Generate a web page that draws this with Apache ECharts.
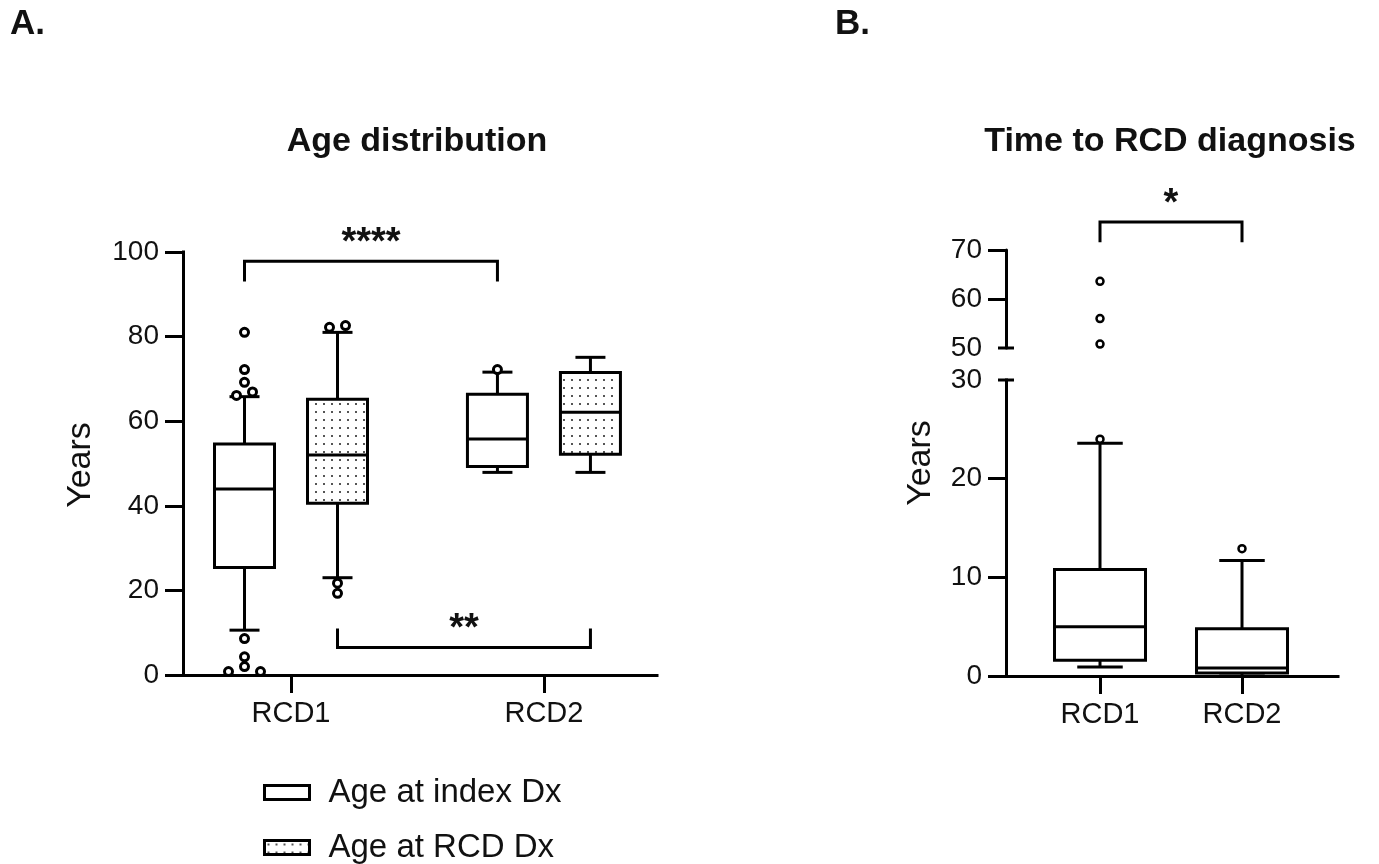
<!DOCTYPE html>
<html>
<head>
<meta charset="utf-8">
<title>Age distribution / Time to RCD diagnosis</title>
<script src="https://cdn.jsdelivr.net/npm/echarts@6/dist/echarts.min.js"></script>
<style>
  html, body { margin: 0; padding: 0; background: #fff; }
  #chart { width: 1379px; height: 864px; }
</style>
</head>
<body>
<div id="chart"></div>
<script>
const categories = ['RCD1', 'RCD2'];
const groupNames = ['Age at index Dx', 'Age at RCD Dx'];

// box stats per category: [lower whisker, Q1, median, Q3, upper whisker]
const ageIndexBoxes = [
  [10.6, 25.4, 44.0, 54.6, 65.8],
  [47.9, 49.3, 55.8, 66.4, 71.6]
];
const ageRcdBoxes = [
  [23.0, 40.6, 52.0, 65.2, 81.0],
  [47.9, 52.2, 62.1, 71.5, 75.1]
];
const ageIndexOutliers = [
  [81.0, 72.2, 69.2, 66.1, 66.9, 8.6, 4.3, 0.8, 2.0, 0.8],
  [72.2]
];
const ageRcdOutliers = [
  [82.2, 82.6, 21.7, 19.3],
  []
];

const timeBoxes = [
  [0.9, 1.6, 5.0, 10.8, 23.6],
  [0.0, 0.3, 0.8, 4.8, 11.7]
];
const timeOutliers = [
  [24.0, 50.8, 56.0, 63.6],
  [12.9]
];

const ageTicks = [0, 20, 40, 60, 80, 100];
const timeTicksLow = [0, 10, 20, 30];
const timeTicksHigh = [50, 60, 70];

// significance brackets: [from category, to category, group, bar level, leg end]
const ageBrackets = [
  [0, 1, 0, 97.8, 93.0],
  [0, 1, 1, 6.5, 11.0]
];
const ageBracketLabels = ['****', '**'];
const timeBrackets = [[0, 1, 0, 75.7, 71.6]];
const timeBracketLabels = ['*'];

const FONT = '"Liberation Sans", Arial, sans-serif';
const INK = '#111';

function dotPattern() {
  const c = document.createElement('canvas');
  c.width = 8;
  c.height = 8;
  const ctx = c.getContext('2d');
  ctx.fillStyle = '#555';
  ctx.fillRect(3, 3, 2, 2);
  return c;
}
const dots = { image: dotPattern(), repeat: 'repeat' };

// spread overlapping outliers sideways, like prism does
function dodge(ys, gap, step) {
  const clusters = [];
  ys.forEach((y, i) => {
    const hit = clusters.find(cl => cl.some(j => Math.abs(ys[j] - y) < gap));
    if (hit) hit.push(i); else clusters.push([i]);
  });
  const dx = ys.map(() => 0);
  clusters.forEach(cl => cl.forEach((j, k) => { dx[j] = (k - (cl.length - 1) / 2) * step; }));
  return dx;
}

function outlierShapes(api, cat, cx, values, range, r, lw) {
  const vals = values.filter(v => v >= range[0] && v <= range[1]);
  const ys = vals.map(v => api.coord([cat, v])[1]);
  const dx = dodge(ys, 8, 16);
  return ys.map((y, i) => ({
    type: 'circle',
    shape: { cx: cx + dx[i], cy: y, r: r },
    style: { fill: '#fff', stroke: '#000', lineWidth: lw },
    z2: 5
  }));
}

function boxRenderer(cfg) {
  return function (params, api) {
    const cat = api.value(0);
    const st = [1, 2, 3, 4, 5].map(k => api.value(k));
    const cx = api.coord([cat, 0])[0] + cfg.offset;
    const y = st.map(v => api.coord([cat, v])[1]);
    const hw = cfg.boxW / 2;
    const cw = cfg.boxW / 4;
    const ln = { stroke: '#000', lineWidth: 3, fill: null };
    const children = [
      { type: 'line', shape: { x1: cx, y1: y[1], x2: cx, y2: y[0] }, style: ln },
      { type: 'line', shape: { x1: cx - cw, y1: y[0], x2: cx + cw, y2: y[0] }, style: ln },
      { type: 'line', shape: { x1: cx, y1: y[3], x2: cx, y2: y[4] }, style: ln },
      { type: 'line', shape: { x1: cx - cw, y1: y[4], x2: cx + cw, y2: y[4] }, style: ln },
      { type: 'rect', shape: { x: cx - hw, y: y[3], width: cfg.boxW, height: y[1] - y[3] },
        style: { fill: cfg.fill, stroke: '#000', lineWidth: 3 } },
      { type: 'line', shape: { x1: cx - hw, y1: y[2], x2: cx + hw, y2: y[2] }, style: ln }
    ];
    return {
      type: 'group',
      children: children.concat(outlierShapes(api, cat, cx, cfg.outliers[params.dataIndex], cfg.range, cfg.r, cfg.lw))
    };
  };
}

function outlierRenderer(cfg) {
  return function (params, api) {
    const cat = api.value(0);
    const cx = api.coord([cat, cfg.range[0]])[0];
    return { type: 'group', children: outlierShapes(api, cat, cx, cfg.outliers[params.dataIndex], cfg.range, cfg.r, cfg.lw) };
  };
}

function bracketRenderer(offsets, labels, fs) {
  return function (params, api) {
    const g = api.value(2);
    const x1 = api.coord([api.value(0), 0])[0] + offsets[g];
    const x2 = api.coord([api.value(1), 0])[0] + offsets[g];
    const yb = api.coord([0, api.value(3)])[1];
    const yl = api.coord([0, api.value(4)])[1];
    return {
      type: 'group',
      children: [
        { type: 'polyline', shape: { points: [[x1, yl], [x1, yb], [x2, yb], [x2, yl]] },
          style: { stroke: '#000', lineWidth: 3, fill: null } },
        { type: 'text', x: (x1 + x2) / 2, y: yb - 26 + 0.22 * fs,
          style: { text: labels[params.dataIndex], align: 'center', verticalAlign: 'middle',
                   textAlign: 'center', textVerticalAlign: 'middle',
                   font: 'bold ' + fs + 'px ' + FONT, fill: INK } }
      ]
    };
  };
}

const xLine = { show: true, onZero: false, lineStyle: { color: '#000', width: 3, cap: 'square' } };
const tickStyle = { color: '#000', width: 3 };
const tickLabel = { color: INK, fontSize: 28, fontFamily: FONT, margin: 24 };
const catLabel = { color: INK, fontSize: 29, fontFamily: FONT, margin: 24, formatter: v => categories[v] };

function legendItem(i) {
  return {
    name: groupNames[i], icon: 'rect',
    itemStyle: { color: i ? dots : '#fff', borderColor: '#000', borderWidth: 3 }
  };
}

const chart = echarts.init(document.getElementById('chart'));

const option = {
  animation: false,
  textStyle: { fontFamily: FONT },
  grid: [
    { left: 183, top: 252, width: 474, height: 423 },
    { left: 1006, top: 250, width: 332, height: 98 },
    { left: 1006, top: 380, width: 332, height: 296 }
  ],
  xAxis: [
    {
      gridIndex: 0, type: 'value', min: -0.427, max: 1.447,
      axisLine: xLine,
      axisTick: { show: true, customValues: [0, 1], length: 18, lineStyle: tickStyle },
      axisLabel: Object.assign({ customValues: [0, 1] }, catLabel),
      splitLine: { show: false }
    },
    { gridIndex: 1, type: 'value', min: -0.662, max: 1.676, show: false },
    {
      gridIndex: 2, type: 'value', min: -0.662, max: 1.676,
      axisLine: xLine,
      axisTick: { show: true, customValues: [0, 1], length: 18, lineStyle: tickStyle },
      axisLabel: Object.assign({ customValues: [0, 1] }, catLabel),
      splitLine: { show: false }
    }
  ],
  yAxis: [
    {
      gridIndex: 0, type: 'value', min: 0, max: 100, interval: 20,
      axisLine: { show: true, onZero: false, lineStyle: { color: '#000', width: 3, cap: 'square' } },
      axisTick: { show: true, customValues: ageTicks, length: 18, lineStyle: tickStyle },
      axisLabel: Object.assign({ customValues: ageTicks }, tickLabel),
      splitLine: { show: false }
    },
    {
      gridIndex: 1, type: 'value', min: 50, max: 70, interval: 10,
      axisLine: { show: true, onZero: false, symbol: ['rect', 'none'], symbolSize: [16, 3],
                  lineStyle: { color: '#000', width: 3 } },
      axisTick: { show: true, customValues: timeTicksHigh.slice(1), length: 18, lineStyle: tickStyle },
      axisLabel: Object.assign({ customValues: timeTicksHigh }, tickLabel),
      splitLine: { show: false }
    },
    {
      gridIndex: 2, type: 'value', min: 0, max: 30, interval: 10,
      axisLine: { show: true, onZero: false, symbol: ['none', 'rect'], symbolSize: [16, 3],
                  lineStyle: { color: '#000', width: 3, cap: 'square' } },
      axisTick: { show: true, customValues: timeTicksLow.slice(0, -1), length: 18, lineStyle: tickStyle },
      axisLabel: Object.assign({ customValues: timeTicksLow }, tickLabel),
      splitLine: { show: false }
    }
  ],
  legend: [0, 1].map(i => ({
    data: [legendItem(i)],
    left: 258, top: 771 + i * 55,
    itemWidth: 45, itemHeight: 14,
    selectedMode: false,
    textStyle: { fontSize: 33, color: INK, fontFamily: FONT, padding: [0, 0, 0, 14] }
  })),
  graphic: [
    { type: 'text', x: 10, y: 24, style: { text: 'A.', font: 'bold 35px ' + FONT, fill: INK,
      align: 'left', verticalAlign: 'middle', textAlign: 'left', textVerticalAlign: 'middle' } },
    { type: 'text', x: 835, y: 24, style: { text: 'B.', font: 'bold 35px ' + FONT, fill: INK,
      align: 'left', verticalAlign: 'middle', textAlign: 'left', textVerticalAlign: 'middle' } },
    { type: 'text', x: 417, y: 142, style: { text: 'Age distribution', font: 'bold 34px ' + FONT, fill: INK,
      align: 'center', verticalAlign: 'middle', textAlign: 'center', textVerticalAlign: 'middle' } },
    { type: 'text', x: 1170, y: 142, style: { text: 'Time to RCD diagnosis', font: 'bold 34px ' + FONT, fill: INK,
      align: 'center', verticalAlign: 'middle', textAlign: 'center', textVerticalAlign: 'middle' } },
    { type: 'text', x: 81, y: 465, rotation: Math.PI / 2, style: { text: 'Years', font: '34px ' + FONT, fill: INK,
      align: 'center', verticalAlign: 'middle', textAlign: 'center', textVerticalAlign: 'middle' } },
    { type: 'text', x: 921, y: 463, rotation: Math.PI / 2, style: { text: 'Years', font: '34px ' + FONT, fill: INK,
      align: 'center', verticalAlign: 'middle', textAlign: 'center', textVerticalAlign: 'middle' } }
  ],
  series: [
    {
      name: groupNames[0], type: 'custom', xAxisIndex: 0, yAxisIndex: 0,
      data: ageIndexBoxes.map((b, i) => [i].concat(b)),
      renderItem: boxRenderer({ boxW: 60, offset: -46.5, fill: '#fff', outliers: ageIndexOutliers, range: [0, 100], r: 4, lw: 3 })
    },
    {
      name: groupNames[1], type: 'custom', xAxisIndex: 0, yAxisIndex: 0,
      data: ageRcdBoxes.map((b, i) => [i].concat(b)),
      renderItem: boxRenderer({ boxW: 60, offset: 46.5, fill: dots, outliers: ageRcdOutliers, range: [0, 100], r: 4, lw: 3 })
    },
    {
      type: 'custom', xAxisIndex: 0, yAxisIndex: 0,
      data: ageBrackets,
      renderItem: bracketRenderer([-46.5, 46.5], ageBracketLabels, 38)
    },
    {
      name: 'Time to RCD diagnosis', type: 'custom', xAxisIndex: 2, yAxisIndex: 2,
      data: timeBoxes.map((b, i) => [i].concat(b)),
      renderItem: boxRenderer({ boxW: 91, offset: 0, fill: '#fff', outliers: timeOutliers, range: [0, 30], r: 3.5, lw: 2.5 })
    },
    {
      type: 'custom', xAxisIndex: 1, yAxisIndex: 1,
      data: categories.map((c, i) => [i, 60]),
      renderItem: outlierRenderer({ outliers: timeOutliers, range: [50, 70], r: 3.5, lw: 2.5 })
    },
    {
      type: 'custom', xAxisIndex: 1, yAxisIndex: 1,
      data: timeBrackets,
      renderItem: bracketRenderer([0], timeBracketLabels, 38)
    }
  ]
};

chart.setOption(option);
</script>
</body>
</html>
